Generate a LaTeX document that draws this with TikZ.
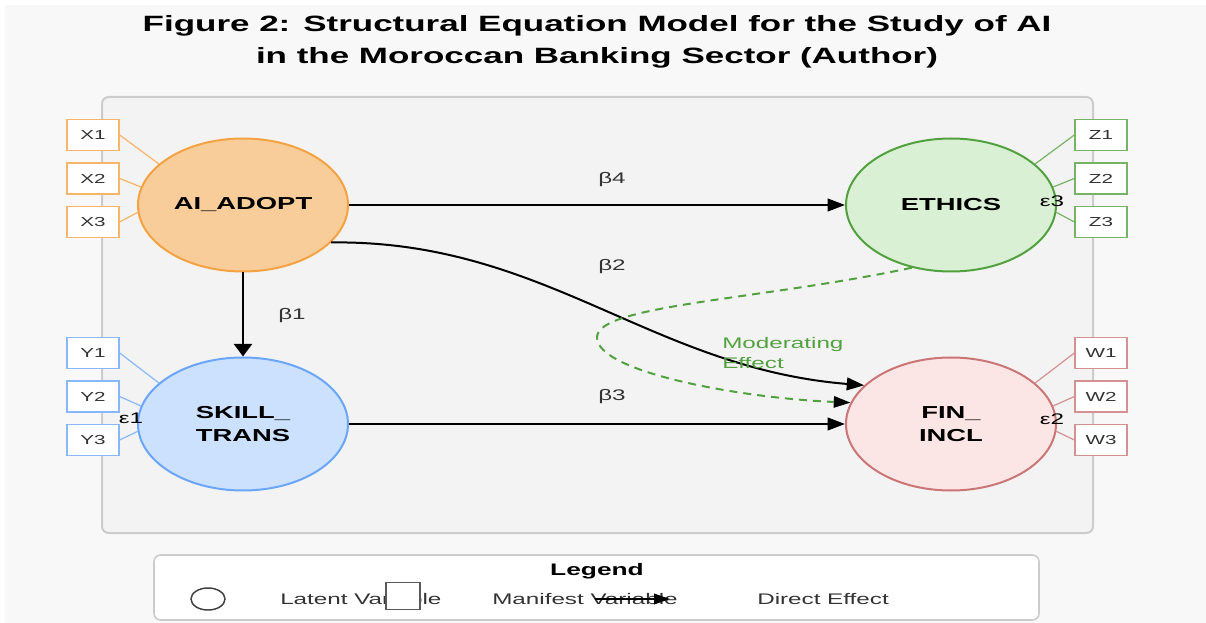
\documentclass[tikz,border=0pt]{standalone}
\usepackage{fontspec}
\setmainfont{Liberation Sans}[FakeStretch=1.58]
\usetikzlibrary{shapes.geometric,arrows.meta}

\definecolor{pagebg}{HTML}{F8F8F8}
\definecolor{panelbg}{HTML}{F3F3F3}
\definecolor{frameline}{HTML}{CCCCCC}
\definecolor{adoptfill}{HTML}{F8CD9A}
\definecolor{adoptline}{HTML}{F4A242}
\definecolor{skillfill}{HTML}{CCE1FD}
\definecolor{skillline}{HTML}{6AA6FB}
\definecolor{ethicsfill}{HTML}{D9F0D5}
\definecolor{ethicsline}{HTML}{52A13F}
\definecolor{finfill}{HTML}{FCE5E5}
\definecolor{finline}{HTML}{CB7676}
\definecolor{textgray}{HTML}{333333}

\begin{document}
\begin{tikzpicture}[
        x=0.75pt, y=-0.75pt,
        latent/.style={
            ellipse,
            draw,
            line width=1.5pt,
            minimum width=157.5pt,
            minimum height=99.75pt,
            inner sep=0pt,
            align=center,
            font=\bfseries\fontsize{13}{17}\selectfont
        },
        manifest/.style={
            rectangle,
            draw,
            fill=white,
            line width=1pt,
            minimum width=39pt,
            minimum height=23.25pt,
            inner sep=0pt,
            text=textgray,
            font=\fontsize{9.8}{11}\selectfont
        },
        loading/.style={line width=0.9pt},
        coef/.style={
            text=textgray,
            inner sep=0pt,
            font=\fontsize{11.5}{13}\selectfont
        },
        effect/.style={
            -{Triangle[length=13pt,width=9.5pt]},
            line width=1.5pt
        },
        legendtext/.style={
            anchor=west,
            inner sep=0pt,
            text=textgray,
            font=\fontsize{11.5}{13}\selectfont
        }
    ]

    % Fondo
    \useasboundingbox (0,0) rectangle (1206,623);
    \fill[white] (0,0) rectangle (1206,623);
    \fill[pagebg] (5,5) rectangle (1206,623);
    \draw[frameline, fill=panelbg, line width=1.5pt, rounded corners=5pt]
        (102,97) rectangle (1093,533);

    % Titulo
    \node[align=center, font=\bfseries\fontsize{16.6}{24}\selectfont]
        (title) at (597,42) {Figure 2: Structural Equation Model for the Study of AI\\
        in the Moroccan Banking Sector (Author)};

    % Variables latentes
    \node[latent, draw=adoptline, fill=adoptfill]
        (adopt) at (243,205) {AI\_ADOPT};

    \node[latent, draw=skillline, fill=skillfill]
        (skill) at (243,424) {SKILL\_\\TRANS};

    \node[latent, draw=ethicsline, fill=ethicsfill]
        (ethics) at (951,205) {ETHICS};

    \node[latent, draw=finline, fill=finfill]
        (fin) at (951,424) {FIN\_\\INCL};

    % Indicadores de AI_ADOPT
    \node[manifest, draw=adoptline!80] (x1) at (93,135) {X1};
    \node[manifest, draw=adoptline!80] (x2) at (93,178.5) {X2};
    \node[manifest, draw=adoptline!80] (x3) at (93,222) {X3};
    \draw[loading, adoptline!80] (x1.east) -- (adopt.154);
    \draw[loading, adoptline!80] (x2.east) -- (adopt.170);
    \draw[loading, adoptline!80] (x3.east) -- (adopt.184);

    % Indicadores de SKILL_TRANS
    \node[manifest, draw=skillline!80] (y1) at (93,353) {Y1};
    \node[manifest, draw=skillline!80] (y2) at (93,396.5) {Y2};
    \node[manifest, draw=skillline!80] (y3) at (93,440) {Y3};
    \draw[loading, skillline!80] (y1.east) -- (skill.154);
    \draw[loading, skillline!80] (y2.east) -- (skill.170);
    \draw[loading, skillline!80] (y3.east) -- (skill.184);

    % Indicadores de ETHICS
    \node[manifest, draw=ethicsline!80] (z1) at (1101,135) {Z1};
    \node[manifest, draw=ethicsline!80] (z2) at (1101,178.5) {Z2};
    \node[manifest, draw=ethicsline!80] (z3) at (1101,222) {Z3};
    \draw[loading, ethicsline!80] (z1.west) -- (ethics.26);
    \draw[loading, ethicsline!80] (z2.west) -- (ethics.10);
    \draw[loading, ethicsline!80] (z3.west) -- (ethics.-4);

    % Indicadores de FIN_INCL
    \node[manifest, draw=finline!80] (w1) at (1101,353) {W1};
    \node[manifest, draw=finline!80] (w2) at (1101,396.5) {W2};
    \node[manifest, draw=finline!80] (w3) at (1101,440) {W3};
    \draw[loading, finline!80] (w1.west) -- (fin.26);
    \draw[loading, finline!80] (w2.west) -- (fin.10);
    \draw[loading, finline!80] (w3.west) -- (fin.-4);

    % Errores
    \node[coef, text=black] (e1) at (131,418) {ε1};
    \node[coef, text=black] (e2) at (1052,419) {ε2};
    \node[coef, text=black] (e3) at (1052,201) {ε3};

    % Efectos directos
    \draw[effect] (adopt) -- (ethics);
    \draw[effect, line width=2.2pt, -{Triangle[length=9.5pt,width=13.5pt]}]
        (adopt) -- (skill);
    \draw[effect] (skill) -- (fin);
    \draw[effect] (adopt.-23) .. controls (545,240) and (650,368) .. (fin.156);

    % Efecto moderador
    \draw[ethicsline, line width=1.5pt, dash pattern=on 6pt off 4.5pt,
        -{Triangle[length=12.5pt,width=8.5pt,black]}]
        (ethics.238) .. controls (760,300) and (598,305) .. (597,337)
        .. controls (596,372) and (740,398) .. (fin.168);
    \node[coef, text=ethicsline, anchor=west, align=left,
        font=\fontsize{11.5}{15.5}\selectfont]
        (modlabel) at (722,353) {Moderating\\Effect};

    % Coeficientes
    \node[coef] (b1) at (292,316) {β1};
    \node[coef] (b2) at (612,267) {β2};
    \node[coef] (b3) at (612,397) {β3};
    \node[coef] (b4) at (612,180) {β4};

    % Leyenda
    \draw[frameline, fill=white, line width=1.2pt, rounded corners=5pt]
        (154,555) rectangle (1039,620);
    \node[font=\bfseries\fontsize{12.5}{14}\selectfont]
        (legendtitle) at (597,571) {Legend};
    \node[legendtext] (lglatent) at (280,599) {Latent Variable};
    \node[legendtext] (lgmanifest) at (492,599) {Manifest Variable};
    \node[legendtext] (lgdirect) at (757,599) {Direct Effect};
    \node[ellipse, draw=black!75, fill=white, line width=1.1pt,
        minimum width=25.5pt, minimum height=16.5pt, inner sep=0pt]
        (lgcircle) at (208,599) {};
    \node[rectangle, draw=black!65, fill=white, line width=1.1pt,
        minimum width=25.5pt, minimum height=20pt, inner sep=0pt]
        (lgbox) at (403,596) {};
    \coordinate (lgstart) at (595,599);
    \coordinate (lgend) at (670,599);
    \draw[line width=1.1pt, -{Triangle[length=12pt,width=8pt]}]
        (lgstart) -- (lgend);

    \end{tikzpicture}
\end{document}
